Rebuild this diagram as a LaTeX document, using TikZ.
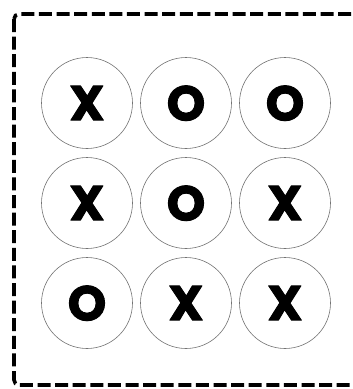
\documentclass[tikz,border=0pt]{standalone}
\usepackage{fontspec}
\setmainfont{Poppins}
\newfontfamily\markfont{Poppins}[BoldFeatures={FakeBold=2}]
\tikzset{
  cell/.style={circle, draw=black!55, line width=0.6pt, minimum size=91pt, inner sep=0pt,
    text depth=0pt, font=\pgfsetroundjoin\fontsize{49}{49}\markfont\bfseries},
  frame/.style={line width=3.6pt, dash pattern=on 13pt off 4.6pt, rounded corners=5pt}
}
\begin{document}
\begin{tikzpicture}[x=1pt, y=-1pt]
    \useasboundingbox (0,0) rectangle (353,389);
    \draw[frame] (14,14) rectangle (372,385);
    \foreach \row [count=\r from 0] in {{X,O,O},{X,O,X},{O,X,X}}
        \foreach \mk [count=\c from 0] in \row
            \node[cell] (c\r\c) at ({87+99*\c}, {103+100*\r}) {\mk};
\end{tikzpicture}
\end{document}
